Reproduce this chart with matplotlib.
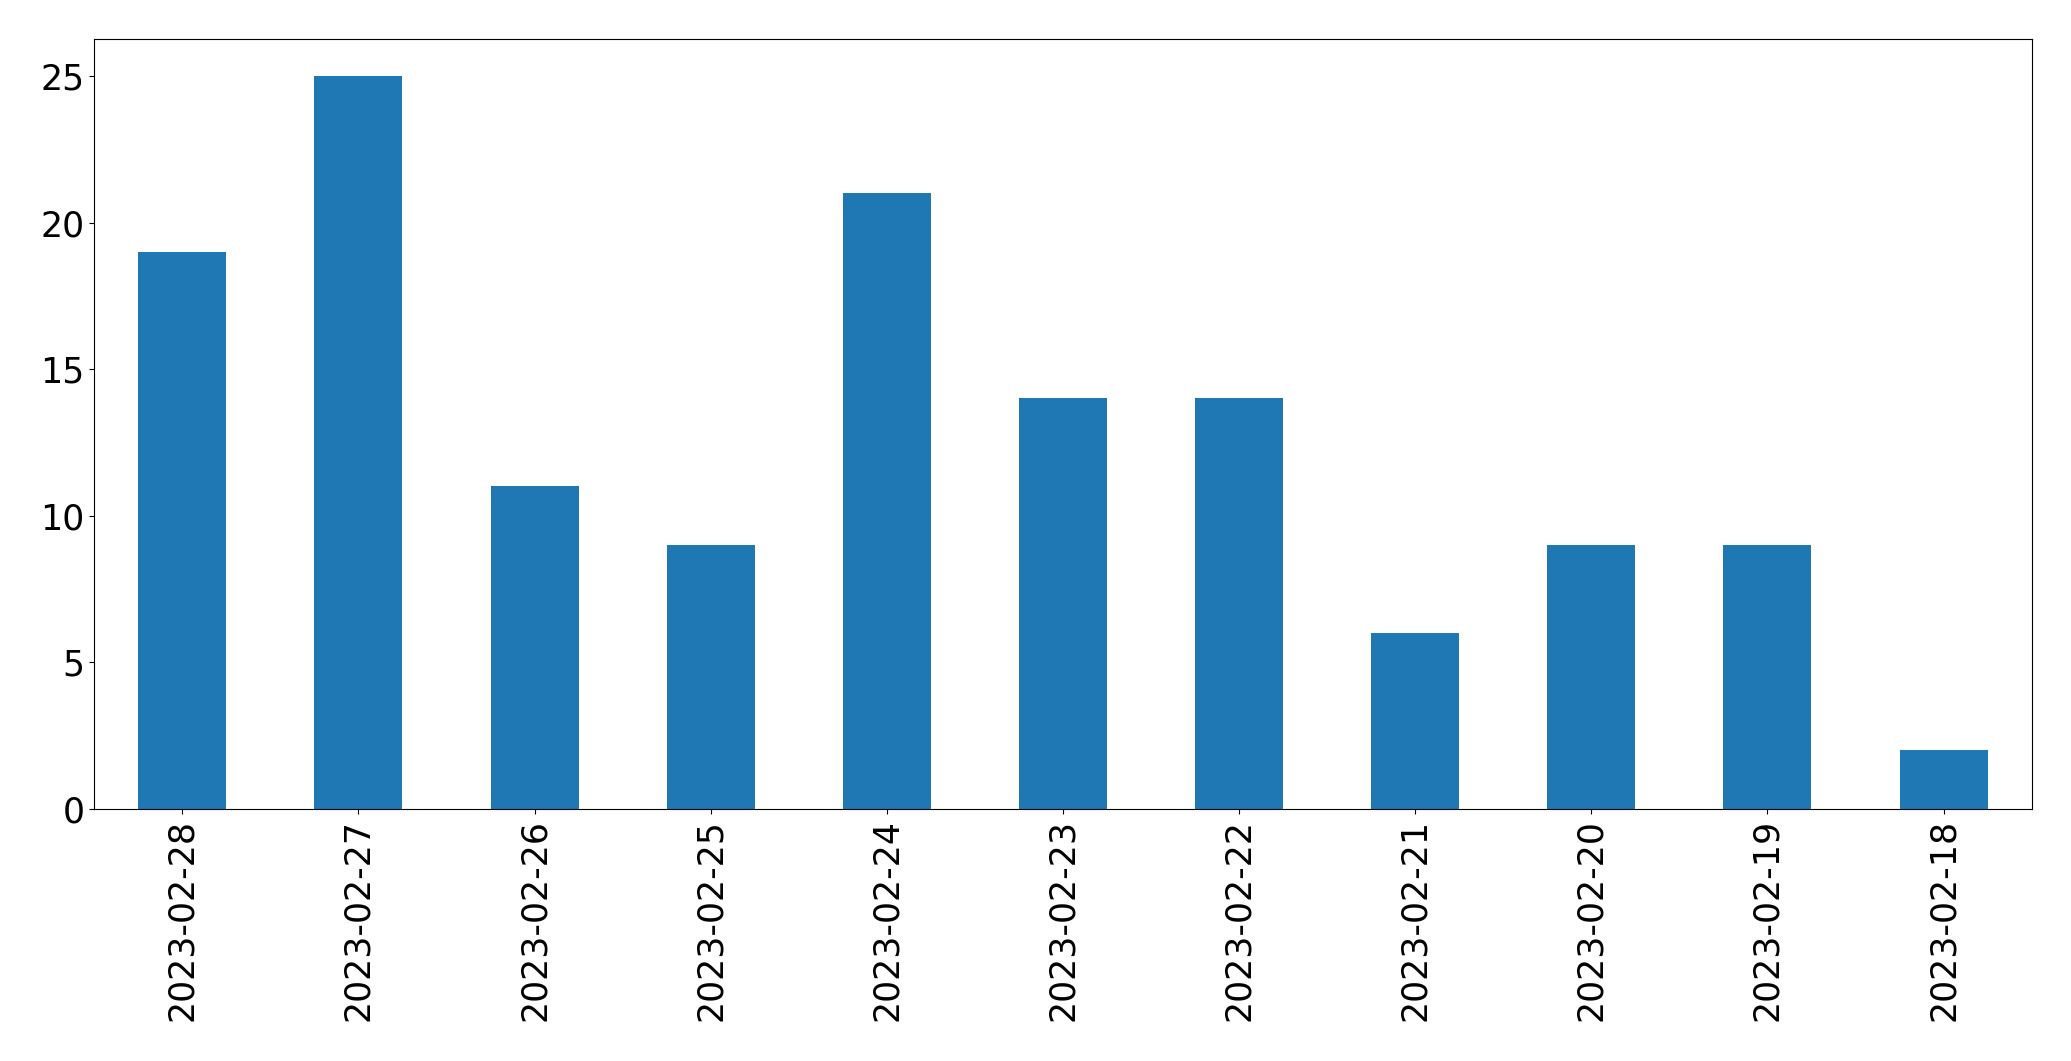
import matplotlib
matplotlib.use("Agg")
import matplotlib.pyplot as plt
import numpy as np

dates = ['2023-02-28', '2023-02-27', '2023-02-26', '2023-02-25', '2023-02-24',
         '2023-02-23', '2023-02-22', '2023-02-21', '2023-02-20', '2023-02-19',
         '2023-02-18']
counts = [19, 25, 11, 9, 21, 14, 14, 6, 9, 9, 2]

fig, ax = plt.subplots(figsize=(20.71, 10.61), dpi=100)
fig.subplots_adjust(left=0.0455, right=0.981, top=0.963, bottom=0.2375)

ind = np.arange(len(dates))
ax.bar(ind, counts, 0.5, color='#1f77b4')
ax.set_xlim(-0.5, len(dates) - 0.5)
ax.set_xticks(ind)
ax.set_xticklabels(dates, rotation=90)
ax.tick_params(axis='both', labelsize=25)

fig.savefig('out.png', dpi=100)
